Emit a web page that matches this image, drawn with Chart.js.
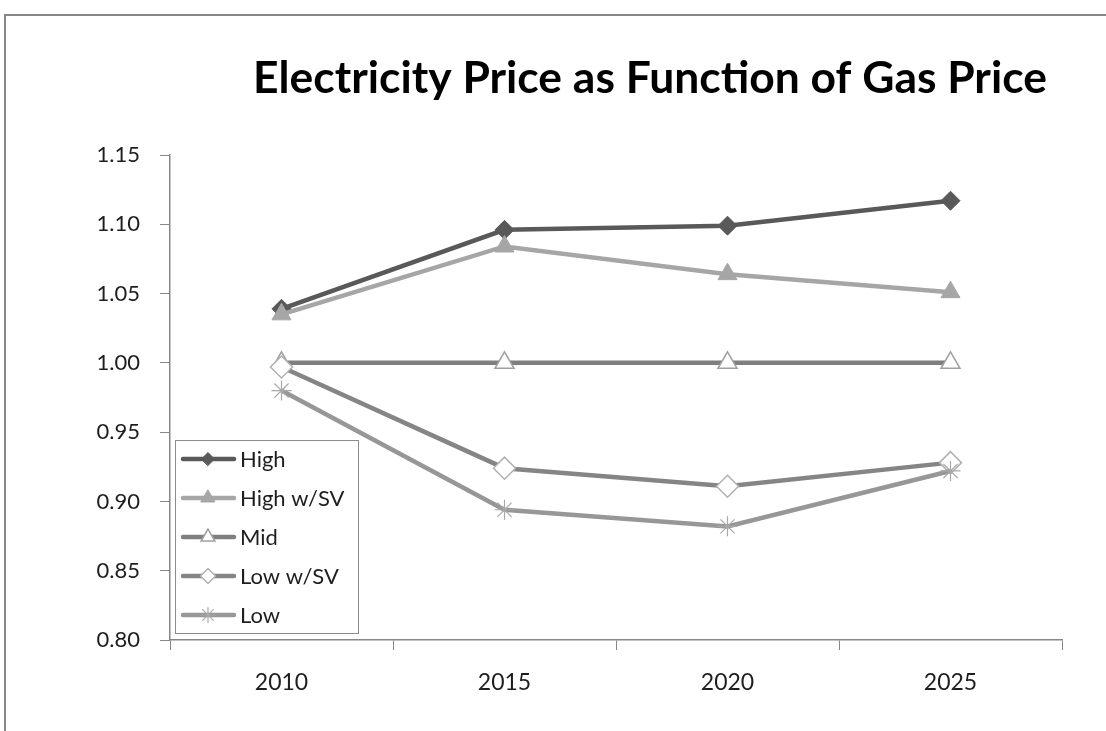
<!DOCTYPE html>
<html>
<head>
<meta charset="utf-8">
<title>Electricity Price as Function of Gas Price</title>
<script src="https://cdn.jsdelivr.net/npm/chart.js@4.4.1/dist/chart.umd.min.js"></script>
<style>
  html, body { margin: 0; padding: 0; background: #fff; overflow: hidden; }
  #wrap { position: relative; width: 1106px; height: 731px; }
  #frame { position: absolute; left: 4px; top: 14px; width: 1200px; height: 800px;
           border-top: 2px solid #878787; border-left: 2px solid #878787; }
  canvas { position: absolute; left: 0; top: 0; }
</style>
</head>
<body>
<div id="wrap">
  <div id="frame"></div>
  <canvas id="chart1" width="1106" height="731"></canvas>
</div>
<script>
// ===== Data =====
const title = "Electricity Price as Function of Gas Price";
const years = ["2010", "2015", "2020", "2025"];
const yTickValues = [0.80, 0.85, 0.90, 0.95, 1.00, 1.05, 1.10, 1.15];

const high     = [1.039, 1.096, 1.099, 1.117];
const highSV   = [1.035, 1.084, 1.064, 1.051];
const mid      = [1.000, 1.000, 1.000, 1.000];
const lowSV    = [0.997, 0.924, 0.911, 0.928];
const low      = [0.980, 0.894, 0.882, 0.922];

const axisColor = "#878787";
const textColor = "#1e1e1e";

// ===== Plugins =====
// title sits over the right part of the frame, like the Excel original
const frameTitle = {
    id: "frameTitle",
    afterDraw(chart) {
        const ctx = chart.ctx;
        ctx.save();
        let size = 40;
        ctx.font = "bold " + size + "px Lato";
        const w = ctx.measureText(title).width;
        size = size * 794 / w;
        ctx.font = "bold " + size.toFixed(1) + "px Lato";
        ctx.fillStyle = "#000";
        ctx.textAlign = "center";
        ctx.textBaseline = "alphabetic";
        ctx.fillText(title, 650, 93);
        ctx.restore();
    }
};

// boxed legend inside the plot area
const boxLegend = {
    id: "boxLegend",
    afterDraw(chart) {
        const ctx = chart.ctx;
        ctx.save();
        ctx.fillStyle = "#fff";
        ctx.fillRect(175.5, 440.5, 183, 193);
        ctx.strokeStyle = "#8c8c8c";
        ctx.lineWidth = 1;
        ctx.strokeRect(175.5, 440.5, 183, 193);

        chart.data.datasets.forEach((ds, i) => {
            const y = 459 + i * 39;
            ctx.strokeStyle = ds.borderColor;
            ctx.lineWidth = 4.5;
            ctx.lineCap = "round";
            ctx.beginPath();
            ctx.moveTo(183, y);
            ctx.lineTo(234, y);
            ctx.stroke();

            ctx.fillStyle = ds.pointBackgroundColor;
            ctx.strokeStyle = ds.pointBorderColor;
            ctx.lineWidth = ds.pointBorderWidth;
            Chart.helpers.drawPoint(ctx, {
                pointStyle: ds.pointStyle,
                radius: ds.legendRadius,
                rotation: 0,
                borderWidth: ds.pointBorderWidth
            }, 208, y);

            ctx.fillStyle = textColor;
            ctx.font = "22px Lato";
            ctx.textAlign = "left";
            ctx.textBaseline = "middle";
            ctx.fillText(ds.label, 240, y + 1);
        });
        ctx.restore();
    }
};

// ===== Chart =====
const ctx1 = document.getElementById("chart1");

new Chart(ctx1, {
    type: "line",
    data: {
        labels: years,
        datasets: [
            {
                label: "High", data: high, order: 4,
                borderColor: "#595959", borderWidth: 4.5,
                pointStyle: "rectRot", pointRadius: 9.5, legendRadius: 6.5,
                pointBackgroundColor: "#595959", pointBorderColor: "#595959", pointBorderWidth: 1
            },
            {
                label: "High w/SV", data: highSV, order: 3,
                borderColor: "#a6a6a6", borderWidth: 4.5,
                pointStyle: "triangle", pointRadius: 11, legendRadius: 8,
                pointBackgroundColor: "#a6a6a6", pointBorderColor: "#a6a6a6", pointBorderWidth: 1
            },
            {
                label: "Mid", data: mid, order: 2,
                borderColor: "#7f7f7f", borderWidth: 4.5,
                pointStyle: "triangle", pointRadius: 11, legendRadius: 8,
                pointBackgroundColor: "#ffffff", pointBorderColor: "#a0a0a0", pointBorderWidth: 1.5
            },
            {
                label: "Low w/SV", data: lowSV, order: 1,
                borderColor: "#858585", borderWidth: 4.5,
                pointStyle: "rectRot", pointRadius: 11, legendRadius: 7.5,
                pointBackgroundColor: "#ffffff", pointBorderColor: "#b0b0b0", pointBorderWidth: 1.5
            },
            {
                label: "Low", data: low, order: 0,
                borderColor: "#979797", borderWidth: 4.5,
                pointStyle: "star", pointRadius: 10, legendRadius: 7.5,
                pointBackgroundColor: "#ffffff", pointBorderColor: "#a8a8a8", pointBorderWidth: 1.2
            }
        ]
    },
    options: {
        responsive: false,
        animation: false,
        events: [],
        layout: { padding: { top: 155, right: 44, bottom: 31, left: 0 } },
        plugins: {
            legend: { display: false },
            tooltip: { enabled: false },
            title: { display: false }
        },
        scales: {
            x: {
                offset: true,
                grid: { offset: true, drawOnChartArea: false, tickLength: 10, color: axisColor, lineWidth: 1 },
                border: { color: axisColor, width: 1.5 },
                ticks: { font: { family: "Lato", size: 23 }, color: textColor, padding: 19, maxRotation: 0 },
                afterFit(s) { s.height = 60; }
            },
            y: {
                min: 0.80,
                max: 1.15,
                afterBuildTicks(s) { s.ticks = yTickValues.map(v => ({ value: v })); },
                ticks: {
                    font: { family: "Lato", size: 22 }, color: textColor, padding: 20,
                    callback: v => Number(v).toFixed(2)
                },
                grid: { drawOnChartArea: false, tickLength: 10, color: axisColor, lineWidth: 1 },
                border: { color: axisColor, width: 1.5 },
                afterFit(s) { s.width = 170; }
            }
        }
    },
    plugins: [frameTitle, boxLegend]
});
</script>
</body>
</html>
